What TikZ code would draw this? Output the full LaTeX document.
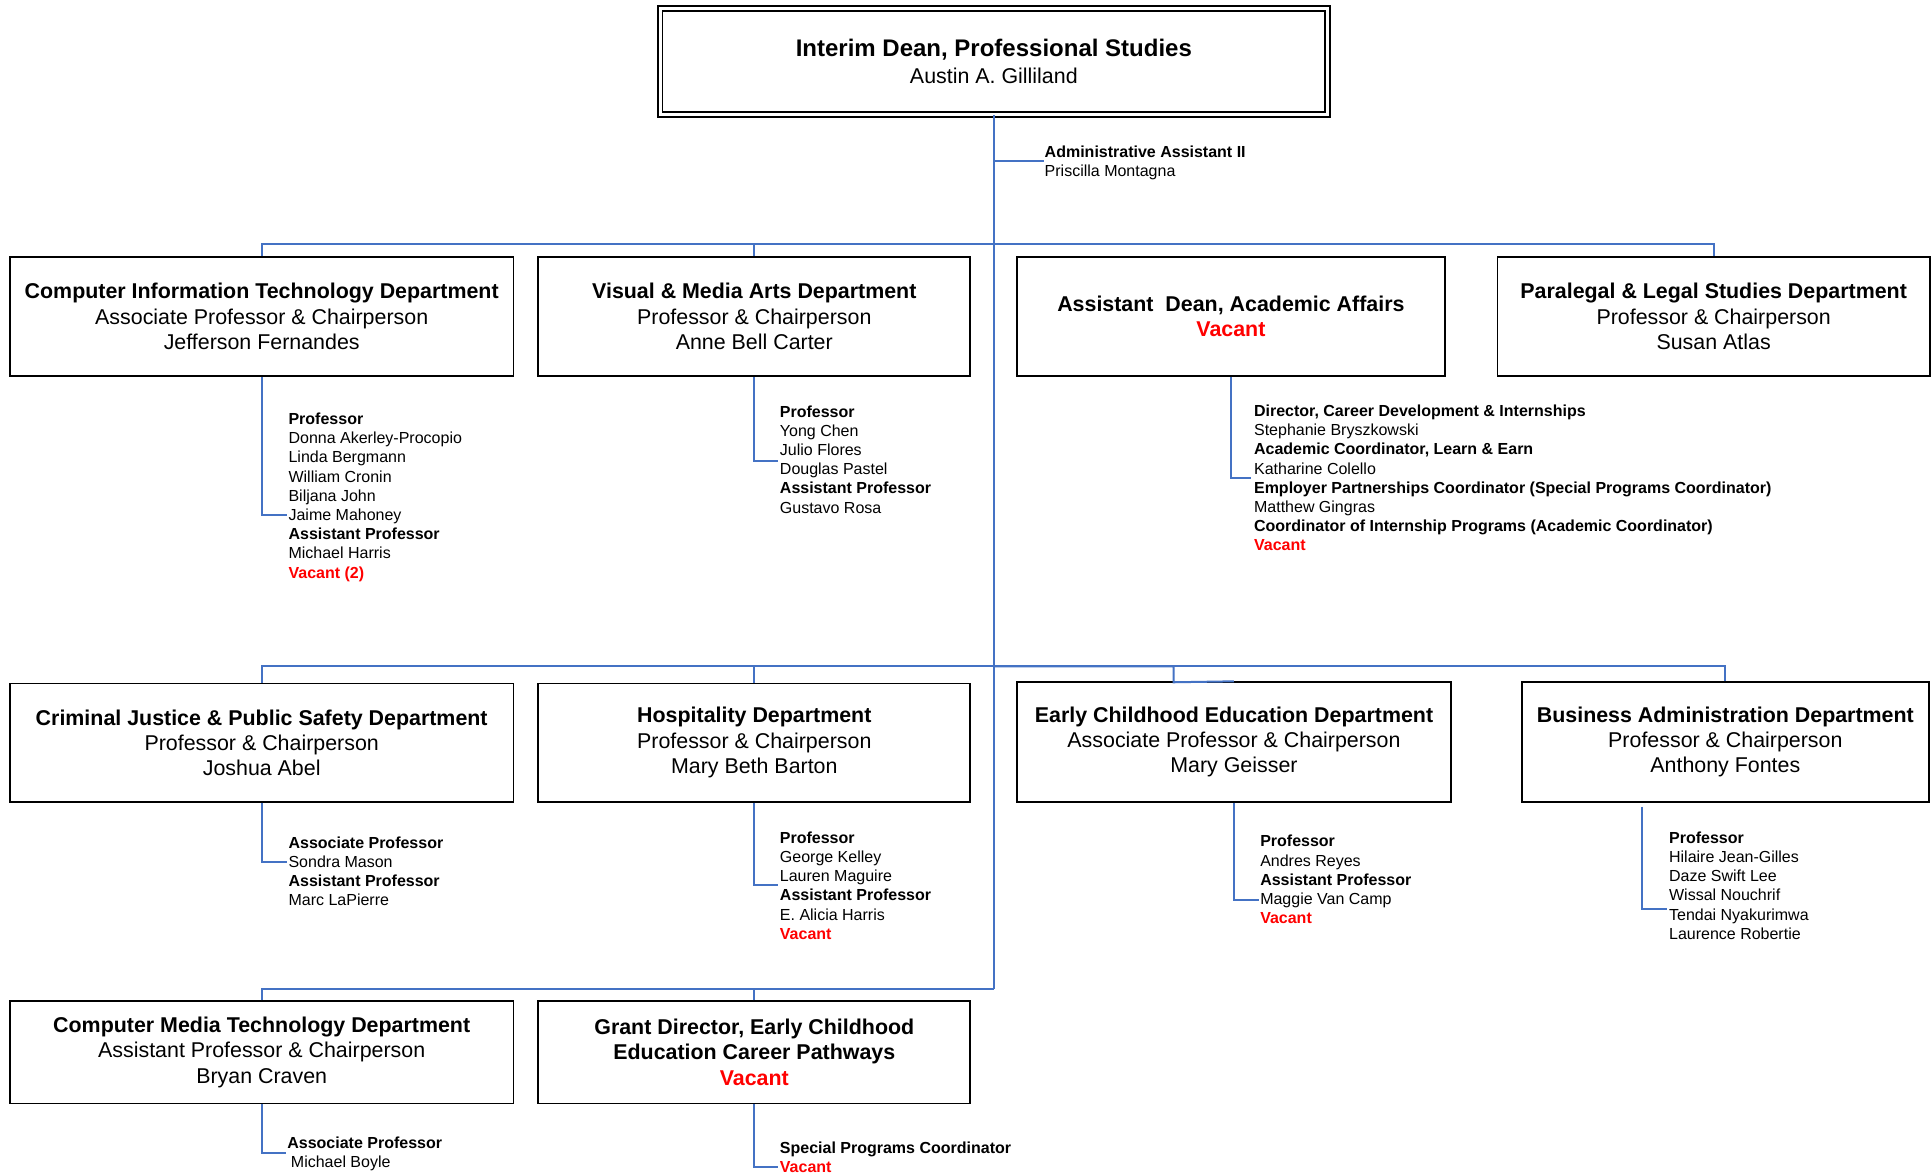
\documentclass[tikz,border=0pt]{standalone}
\usepackage{fontspec}
\setmainfont{Liberation Sans}
\definecolor{linkblue}{RGB}{68,114,196}
\definecolor{vacred}{RGB}{255,0,0}
\newcommand{\vac}[1]{\textcolor{vacred}{\textbf{#1}}}
\begin{document}
\begin{tikzpicture}[x=0.61575pt, y=-0.61575pt,
  unitbox/.style={draw=black, line width=0.95pt, inner sep=0pt, align=center,
    font=\fontsize{10.7}{12.6}\selectfont},
  bw/.style={minimum width=#1*0.61575pt},
  bh/.style={minimum height=#1*0.61575pt},
  link/.style={draw=linkblue, line width=1pt},
  roster/.style={anchor=north west, inner sep=0pt, align=left,
    font=\fontsize{8}{9.6}\selectfont},
]
\useasboundingbox (0,0) rectangle (1568,952);

% ---------- top of the unit ----------
\node[unitbox, double, line width=0.9pt, double distance=1.5pt, bw=542, bh=86] (dean) at (807,50)
  {{\fontsize{12}{14.2}\selectfont\bfseries Interim Dean, Professional Studies}\\[1pt]
   Austin A. Gilliland};

% ---------- first row ----------
\node[unitbox, bw=409, bh=97] (cit) at (212.5,257)
  {\textbf{Computer Information Technology Department}\\Associate Professor \& Chairperson\\Jefferson Fernandes};
\node[unitbox, bw=351, bh=97] (vma) at (612.5,257)
  {\textbf{Visual \& Media Arts Department}\\Professor \& Chairperson\\Anne Bell Carter};
\node[unitbox, bw=347, bh=97] (adean) at (999.5,257)
  {\textbf{Assistant\ \ Dean, Academic Affairs}\\\vac{Vacant}};
\node[unitbox, bw=351, bh=97] (para) at (1391.5,257)
  {\textbf{Paralegal \& Legal Studies Department}\\Professor \& Chairperson\\Susan Atlas};

% ---------- second row ----------
\node[unitbox, bw=409, bh=96] (cj) at (212.5,603)
  {\textbf{Criminal Justice \& Public Safety Department}\\Professor \& Chairperson\\Joshua Abel};
\node[unitbox, bw=351, bh=96] (hosp) at (612.5,603)
  {\textbf{Hospitality Department}\\Professor \& Chairperson\\Mary Beth Barton};
\node[unitbox, bw=352, bh=97] (ece) at (1002,602.5)
  {\textbf{Early Childhood Education Department}\\Associate Professor \& Chairperson\\Mary Geisser};
\node[unitbox, bw=330, bh=97] (ba) at (1401,602.5)
  {\textbf{Business Administration Department}\\Professor \& Chairperson\\Anthony Fontes};

% ---------- third row ----------
\node[unitbox, bw=409, bh=83] (cmt) at (212.5,854.5)
  {\textbf{Computer Media Technology Department}\\Assistant Professor \& Chairperson\\Bryan Craven};
\node[unitbox, bw=351, bh=83] (grant) at (612.5,854.5)
  {\textbf{Grant Director, Early Childhood}\\\textbf{Education Career Pathways}\\\vac{Vacant}};

% ---------- staff lists ----------
\node[roster] (admin) at (848,118)
  {\textbf{Administrative Assistant II}\\Priscilla Montagna};
\node[roster] (citlist) at (234,335)
  {\textbf{Professor}\\Donna Akerley-Procopio\\Linda Bergmann\\William Cronin\\Biljana John\\Jaime Mahoney\\
   \textbf{Assistant Professor}\\Michael Harris\\\vac{Vacant (2)}};
\node[roster] (vmalist) at (633,329)
  {\textbf{Professor}\\Yong Chen\\Julio Flores\\Douglas Pastel\\\textbf{Assistant Professor}\\Gustavo Rosa};
\node[roster] (adeanlist) at (1018,328.5)
  {\textbf{Director, Career Development \& Internships}\\Stephanie Bryszkowski\\
   \textbf{Academic Coordinator, Learn \& Earn}\\Katharine Colello\\
   \textbf{Employer Partnerships Coordinator (Special Programs Coordinator)}\\Matthew Gingras\\
   \textbf{Coordinator of Internship Programs (Academic Coordinator)}\\\vac{Vacant}};
\node[roster] (cjlist) at (234,679)
  {\textbf{Associate Professor}\\Sondra Mason\\\textbf{Assistant Professor}\\Marc LaPierre};
\node[roster] (hosplist) at (633,675)
  {\textbf{Professor}\\George Kelley\\Lauren Maguire\\\textbf{Assistant Professor}\\E. Alicia Harris\\\vac{Vacant}};
\node[roster] (ecelist) at (1023,678)
  {\textbf{Professor}\\Andres Reyes\\\textbf{Assistant Professor}\\Maggie Van Camp\\\vac{Vacant}};
\node[roster] (balist) at (1355,675)
  {\textbf{Professor}\\Hilaire Jean-Gilles\\Daze Swift Lee\\Wissal Nouchrif\\Tendai Nyakurimwa\\Laurence Robertie};
\node[roster] (cmtlist) at (233,923)
  {\textbf{Associate Professor}\\\hspace{1.8pt}Michael Boyle};
\node[roster] (grantlist) at (633,927)
  {\textbf{Special Programs Coordinator}\\\vac{Vacant}};

% ---------- reporting lines ----------
\coordinate (bus1) at (807,198);
\coordinate (bus2) at (807,541);
\coordinate (bus3) at (807,803);
\coordinate (adminhook) at (848,131);
\coordinate (ecedrop) at (953,554);

\draw[link] (dean.south) -- (bus3);
\draw[link] (adminhook -| dean.south) -- (adminhook);

\draw[link] (cit.north) |- (bus1);
\draw[link] (vma.north) |- (bus1);
\draw[link] (para.north) |- (bus1);

\draw[link] (cj.north) |- (bus2);
\draw[link] (hosp.north) |- (bus2);
\draw[link] (ece.north) -- (ecedrop) |- (bus2);
\draw[link] (ba.north) |- (bus2);

\draw[link] (cmt.north) |- (bus3);
\draw[link] (grant.north) |- (bus3);

% staff list hooks
\coordinate (citend) at (233,418);
\coordinate (vmaend) at (632,374);
\coordinate (adeanend) at (1016,388);
\coordinate (cjend) at (233,700);
\coordinate (hospend) at (632,719);
\coordinate (eceend) at (1022,731);
\coordinate (bastart) at (1333,655);
\coordinate (baend) at (1354,738);
\coordinate (cmtend) at (232,936);
\coordinate (grantend) at (632,948);

\draw[link] (cit.south) |- (citend);
\draw[link] (vma.south) |- (vmaend);
\draw[link] (adean.south) |- (adeanend);
\draw[link] (cj.south) |- (cjend);
\draw[link] (hosp.south) |- (hospend);
\draw[link] (ece.south) |- (eceend);
\draw[link] (bastart) |- (baend);
\draw[link] (cmt.south) |- (cmtend);
\draw[link] (grant.south) |- (grantend);
\end{tikzpicture}
\end{document}
